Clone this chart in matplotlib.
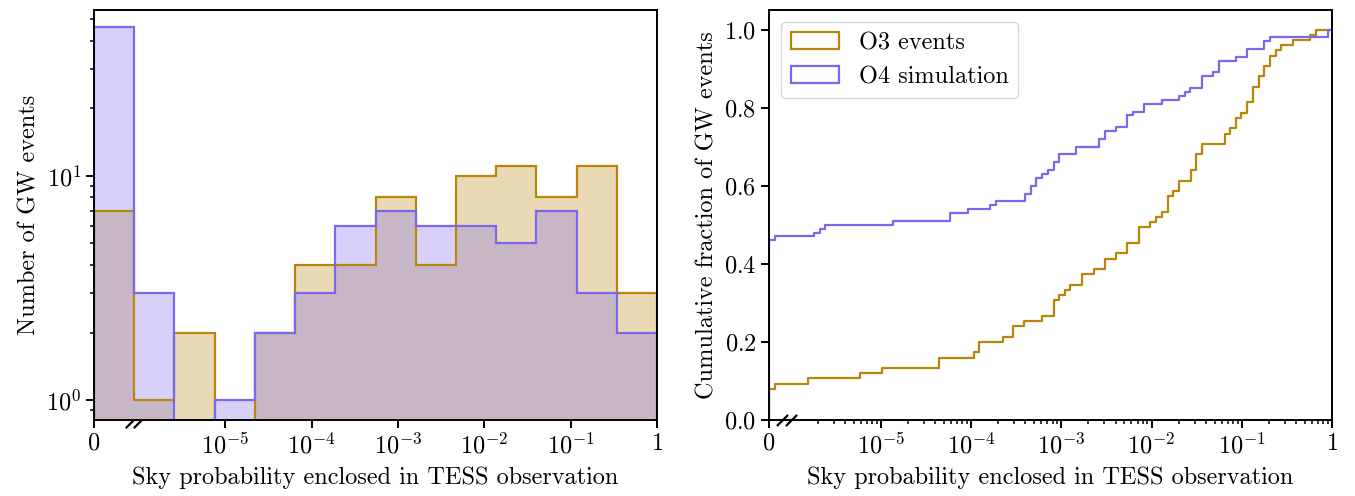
import numpy as np
import matplotlib
matplotlib.use("Agg")
import matplotlib.pyplot as plt
from matplotlib.patches import Patch
from matplotlib.ticker import FixedLocator, NullLocator

plt.rcParams['font.family'] = 'serif'
plt.rcParams['font.serif'] = ['cmr10', 'DejaVu Serif']
plt.rcParams['mathtext.fontset'] = 'cm'
plt.rcParams['axes.formatter.use_mathtext'] = True
plt.rcParams['font.size'] = 17.5
plt.rcParams['axes.linewidth'] = 1.4
plt.rcParams['xtick.major.width'] = 1.4
plt.rcParams['ytick.major.width'] = 1.4
plt.rcParams['xtick.minor.width'] = 1.1
plt.rcParams['ytick.minor.width'] = 1.1
plt.rcParams['xtick.major.size'] = 5.5
plt.rcParams['ytick.major.size'] = 5.5
plt.rcParams['xtick.minor.size'] = 3
plt.rcParams['ytick.minor.size'] = 3

# ---------------- data ----------------
series_names = ["O3 events", "O4 simulation"]
colors = ["#B8860B", "#7B68EE"]

# histogram: 14 log-spaced bins; first bin holds the zero-probability events
hist_edges_log = np.linspace(-6.52, 0.0, 15)
o3_counts = [7, 1, 2, 0, 2, 4, 4, 8, 4, 10, 11, 8, 11, 3]
o4_counts = [46, 3, 0, 1, 2, 3, 6, 7, 6, 6, 5, 7, 3, 2]

# cumulative: number of events with zero probability and log10 of the others
o3_n_zero = 6
o3_log_values = [-6.178, -5.804, -5.233, -4.982, -4.352, -4.352, -3.971, -3.908, -3.908,
                 -3.644, -3.530, -3.530, -3.408, -3.216, -3.086, -3.086, -3.086, -3.027,
                 -2.956, -2.900, -2.767, -2.767, -2.641, -2.516, -2.516, -2.391, -2.267,
                 -2.267, -2.138, -2.138, -2.138, -2.016, -1.952, -1.886, -1.822, -1.822,
                 -1.822, -1.760, -1.697, -1.697, -1.567, -1.567, -1.508, -1.508, -1.508,
                 -1.444, -1.444, -1.189, -1.189, -1.130, -1.067, -1.067, -1.004, -0.938,
                 -0.938, -0.874, -0.874, -0.874, -0.811, -0.811, -0.749, -0.749, -0.686,
                 -0.686, -0.622, -0.563, -0.433, -0.241, -0.178]
o4_n_zero = 46
o4_log_values = [-6.178, -5.741, -5.678, -5.619, -4.860, -4.233, -4.233, -4.038, -3.786,
                 -3.722, -3.400, -3.400, -3.341, -3.341, -3.278, -3.278, -3.216, -3.152,
                 -3.086, -3.086, -3.027, -3.027, -2.833, -2.833, -2.582, -2.582, -2.519,
                 -2.519, -2.389, -2.267, -2.267, -2.267, -2.204, -2.078, -2.078, -1.889,
                 -1.697, -1.633, -1.571, -1.444, -1.444, -1.444, -1.316, -1.256, -1.256,
                 -1.256, -1.067, -0.944, -0.944, -0.749, -0.749, -0.686, -0.049, -0.049]

tick_exponents = [-5, -4, -3, -2, -1]
xlabel = "Sky probability enclosed in TESS observation"
ylabel_left = "Number of GW events"
ylabel_right = "Cumulative fraction of GW events"

# ---------------- figure ----------------
fig = plt.figure(figsize=(13.55, 4.96), dpi=100)
axL = fig.add_axes([0.0694, 0.1532, 0.4155, 0.8266])
axR = fig.add_axes([0.5675, 0.1532, 0.4155, 0.8266])

# ---- left: histograms ----
edges = 10 ** hist_edges_log
zeroL = edges[0]
axL.set_xscale('log')
axL.set_yscale('log')
for counts, c in zip([o3_counts, o4_counts], colors):
    vals = np.array(counts, dtype=float)
    vals[vals <= 0] = 1e-3
    axL.stairs(vals, edges, baseline=1e-3, fill=True, color=c, alpha=0.3, lw=0)
for counts, c in zip([o3_counts, o4_counts], colors):
    vals = np.array(counts, dtype=float)
    vals[vals <= 0] = 1e-3
    axL.stairs(vals, edges, baseline=1e-3, fill=False, color=c, lw=1.6)
axL.set_xlim(zeroL, 1.0)
axL.set_ylim(0.815, 54.8)
axL.xaxis.set_major_locator(FixedLocator([zeroL] + [10.0 ** e for e in tick_exponents] + [1.0]))
axL.set_xticklabels(['$0$'] + [r'$10^{%d}$' % e for e in tick_exponents] + ['$1$'])
axL.xaxis.set_minor_locator(NullLocator())
axL.set_xlabel(xlabel, labelpad=6)
axL.set_ylabel(ylabel_left)

# break marks (left: only the part below the axis shows)
brkL = dict(marker=[(-1, -1), (0, 0)], markersize=11, linestyle='none', color='k',
            mec='k', mew=1.6, clip_on=False)
axL.plot([10 ** -6.07, 10 ** -5.98], [0, 0], transform=axL.get_xaxis_transform(),
         zorder=0.5, **brkL)

# ---- right: cumulative ----
zeroR = 10 ** -6.24
axR.set_xscale('log')
for n0, lv, c, name in zip([o3_n_zero, o4_n_zero], [o3_log_values, o4_log_values],
                           colors, series_names):
    x = np.concatenate([np.full(n0, zeroR), 10.0 ** np.array(lv)])
    x = np.sort(x)
    n = len(x)
    y = np.arange(1, n + 1) / n
    xs = np.concatenate([[zeroR], x, [1.0]])
    ys = np.concatenate([[0.0], y, [1.0]])
    axR.step(xs, ys, where='post', color=c, lw=1.6)
axR.set_xlim(zeroR, 1.0)
axR.set_ylim(0, 1.05)
axR.xaxis.set_major_locator(FixedLocator([zeroR] + [10.0 ** e for e in tick_exponents] + [1.0]))
axR.set_xticklabels(['$0$'] + [r'$10^{%d}$' % e for e in tick_exponents] + ['$1$'])
minor = [k * 10.0 ** d for d in range(-6, 0) for k in range(2, 10)]
axR.xaxis.set_minor_locator(FixedLocator(minor))
axR.set_yticks([0.0, 0.2, 0.4, 0.6, 0.8, 1.0])
axR.set_xlabel(xlabel, labelpad=6)
axR.set_ylabel(ylabel_right)
brkR = dict(marker=[(-1, -1), (1, 1)], markersize=8, linestyle='none', color='k',
            mec='k', mew=1.6, clip_on=False)
axR.plot([10 ** -6.1, 10 ** -6.0], [0, 0], transform=axR.get_xaxis_transform(),
         zorder=5, **brkR)

handles = [Patch(facecolor='none', edgecolor=c, lw=1.6, label=nm) for c, nm in zip(colors, series_names)]
axR.legend(handles=handles, loc='upper left')

fig.savefig("out.png", dpi=100)
